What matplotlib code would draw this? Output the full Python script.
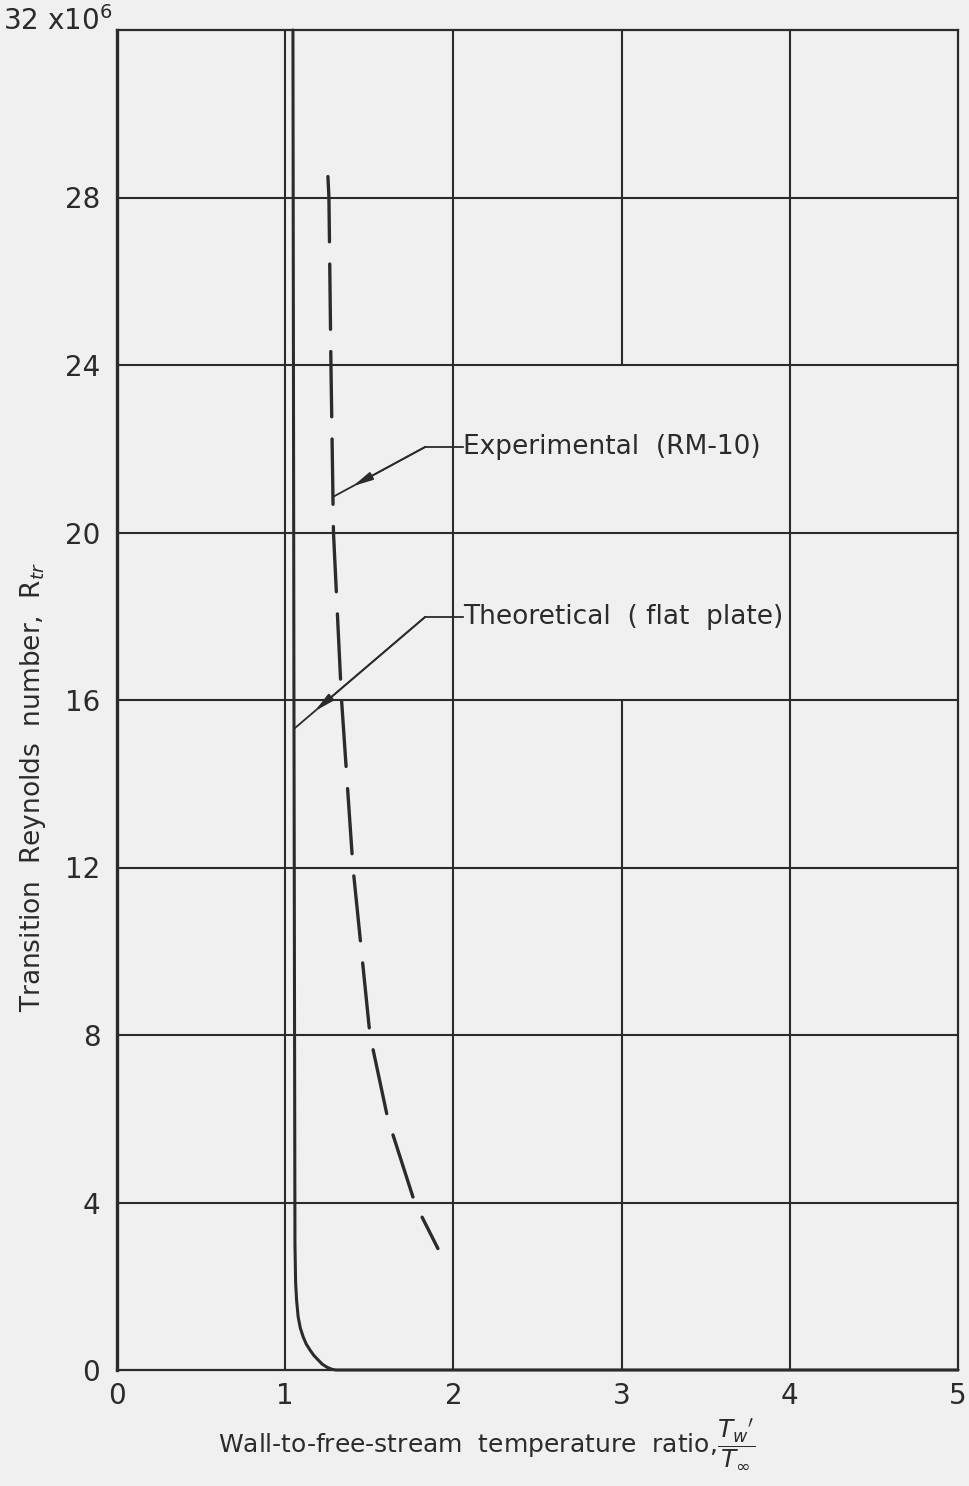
import numpy as np
import matplotlib
matplotlib.use("Agg")
from matplotlib import pyplot as plt

plt.rcParams['font.family'] = ['DejaVu Sans']
plt.rcParams['mathtext.fontset'] = 'dejavusans'
plt.rcParams['lines.scale_dashes'] = False

# values (y in millions)
x_ticks = [0, 1, 2, 3, 4, 5]
y_ticks = [0, 4, 8, 12, 16, 20, 24, 28, 32]
y_tick_labels = ['0', '4', '8', '12', '16', '20', '24', '28', '']
y_top_label = '32 x10$^6$'

exp_ratio = [1.254, 1.26, 1.272, 1.287, 1.335, 1.403, 1.504, 1.61, 1.77, 1.908]
exp_rtr = [28.5, 28, 24, 20, 16, 12, 8, 6, 4, 2.9]

theo_ratio = [1.046, 1.052, 1.058, 1.062, 1.068, 1.077, 1.09, 1.107, 1.125,
              1.147, 1.17, 1.196, 1.22, 1.247, 1.275, 1.30, 5.0]
theo_rtr = [32, 16, 3, 2.08, 1.65, 1.27, 1.0, 0.79, 0.62,
            0.48, 0.35, 0.24, 0.14, 0.07, 0.02, 0, 0]

ink = '#2b2b2b'
paper = '#f0f0f0'

fig = plt.figure(figsize=(9.69, 14.86), dpi=100, facecolor=paper)
ax = fig.add_axes([117 / 969, 116 / 1486, 841 / 969, 1340 / 1486])
ax.set_facecolor(paper)

ax.set_xlim(0, 5)
ax.set_ylim(0, 32e6)

# grid, drawn by hand (the x = 3 line has a gap between 16 and 24)
for xv in x_ticks[1:-1]:
    if xv == 3:
        ax.vlines(xv, 0, 16e6, color=ink, lw=1.5)
        ax.vlines(xv, 24e6, 32e6, color=ink, lw=1.5)
    else:
        ax.vlines(xv, 0, 32e6, color=ink, lw=1.5)
for yv in y_ticks[1:-1]:
    ax.hlines(yv * 1e6, 0, 5, color=ink, lw=1.5)

for s in ax.spines.values():
    s.set_color(ink)
    s.set_linewidth(1.6)
ax.spines['left'].set_linewidth(2.4)

ax.plot(np.array(theo_ratio), np.array(theo_rtr) * 1e6, color=ink, lw=2.2,
        solid_capstyle='round', solid_joinstyle='round', clip_on=False)
ax.plot(np.array(exp_ratio), np.array(exp_rtr) * 1e6, color=ink, lw=2.4,
        dashes=(47, 16), dash_capstyle='round')

ax.set_xticks(x_ticks)
ax.set_xticklabels([str(v) for v in x_ticks])
ax.set_yticks([v * 1e6 for v in y_ticks])
ax.set_yticklabels(y_tick_labels)
ax.tick_params(length=0, labelsize=20, colors=ink)
ax.tick_params(axis='x', pad=9)
ax.tick_params(axis='y', pad=12)
ax.text(-0.006, y_ticks[-1] * 1e6, y_top_label, transform=ax.get_yaxis_transform(),
        ha='right', va='baseline', fontsize=20, color=ink)

ax.set_ylabel('Transition  Reynolds  number,  R$_{tr}$', fontsize=19, color=ink)
ax.yaxis.set_label_coords(-0.082, 0.435)
ax.set_xlabel("Wall-to-free-stream  temperature  ratio,$\\dfrac{T_w{'}}{T_\\infty}$",
              fontsize=18, color=ink)
ax.xaxis.set_label_coords(0.44, -0.035)


def leader(label, text_xy, elbow_x, head_x, tip):
    tx, ty = text_xy
    ax.plot([elbow_x, tx], [ty * 1e6, ty * 1e6], color=ink, lw=1.3)
    ax.plot([elbow_x, tip[0]], [ty * 1e6, tip[1] * 1e6], color=ink, lw=1.3)
    frac = (head_x - tip[0]) / (elbow_x - tip[0])
    head_y = tip[1] + frac * (ty - tip[1])
    ax.annotate('', xy=(head_x, head_y * 1e6), xytext=(elbow_x, ty * 1e6),
                arrowprops=dict(arrowstyle='-|>,head_length=1.2,head_width=0.25',
                                color=ink, lw=1.3, shrinkA=0, shrinkB=0))
    ax.text(tx, ty * 1e6, label, fontsize=19, color=ink, ha='left', va='center')


leader('Experimental  (RM-10)', (2.057, 22.04), 1.831, 1.403, (1.284, 20.85))
leader('Theoretical  ( flat  plate)', (2.057, 17.98), 1.831, 1.177, (1.058, 15.33))

fig.savefig('out.png', dpi=100, facecolor=paper)
